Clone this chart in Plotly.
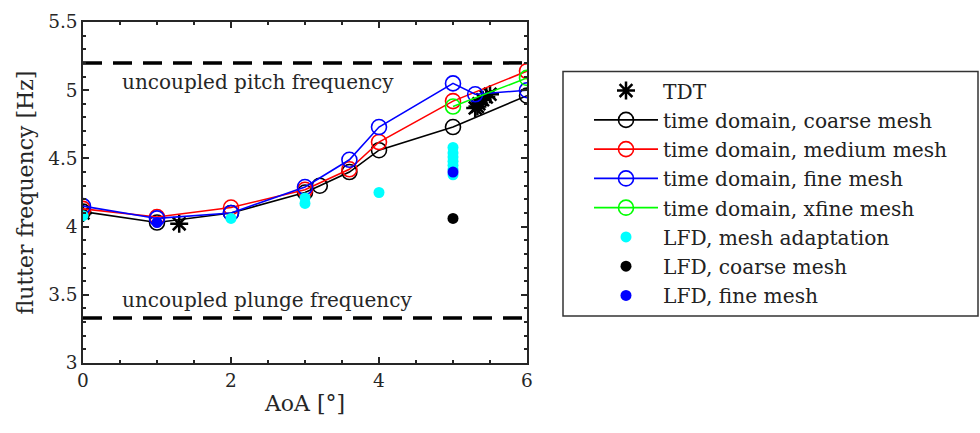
import plotly.graph_objects as go

# ---------------- data ----------------
tdt_x = [0.0, 1.3, 5.3, 5.35, 5.4, 5.45, 5.5, 5.33]
tdt_y = [4.10, 4.02, 4.87, 4.90, 4.93, 4.95, 4.97, 4.88]

coarse_x = [0, 1, 2, 3, 3.2, 3.6, 4, 5, 6]
coarse_y = [4.11, 4.03, 4.10, 4.25, 4.30, 4.40, 4.56, 4.73, 4.96]

medium_x = [0, 1, 2, 3, 3.6, 4, 5, 6]
medium_y = [4.13, 4.07, 4.14, 4.27, 4.42, 4.62, 4.92, 5.14]

fine_x = [0, 1, 2, 3, 3.6, 4, 5, 5.3, 6]
fine_y = [4.15, 4.06, 4.10, 4.29, 4.49, 4.73, 5.05, 4.97, 5.00]

xfine_x = [5, 6]
xfine_y = [4.88, 5.09]

lfd_adapt_x = [0, 2, 3, 3, 4, 5, 5, 5, 5, 5, 5, 5]
lfd_adapt_y = [4.08, 4.06, 4.21, 4.17, 4.25, 4.58, 4.54, 4.51, 4.48, 4.45, 4.42, 4.38]

lfd_coarse_x = [5]
lfd_coarse_y = [4.06]

lfd_fine_x = [1, 5]
lfd_fine_y = [4.03, 4.40]

ref_x = [0, 6]
pitch_freq = 5.2
plunge_freq = 3.33

x_ticks = [0, 2, 4, 6]
y_ticks = [3, 3.5, 4, 4.5, 5, 5.5]

FONT = "DejaVu Serif"
TXT = "#262626"

fig = go.Figure()

# reference lines
for yv in (pitch_freq, plunge_freq):
    fig.add_trace(go.Scatter(x=ref_x, y=[yv] * 2, mode="lines",
                             line=dict(color="black", width=3.5, dash="19px,11px"),
                             showlegend=False, hoverinfo="skip"))

fig.add_trace(go.Scatter(x=tdt_x, y=tdt_y, mode="markers", name="TDT",
                         marker=dict(symbol="asterisk-open", size=15, color="black",
                                     line=dict(color="black", width=2.5))))

for name, xs, ys, col in [
    ("time domain, coarse mesh", coarse_x, coarse_y, "#000000"),
    ("time domain, medium mesh", medium_x, medium_y, "#ff0000"),
    ("time domain, fine mesh", fine_x, fine_y, "#0000ff"),
    ("time domain, xfine mesh", xfine_x, xfine_y, "#00ff00"),
]:
    fig.add_trace(go.Scatter(x=xs, y=ys, mode="lines+markers", name=name,
                             line=dict(color=col, width=1.6),
                             marker=dict(symbol="circle-open", size=15, color=col,
                                         line=dict(color=col, width=1.6))))

for name, xs, ys, col in [
    ("LFD, mesh adaptation", lfd_adapt_x, lfd_adapt_y, "#00ffff"),
    ("LFD, coarse mesh", lfd_coarse_x, lfd_coarse_y, "#000000"),
    ("LFD, fine mesh", lfd_fine_x, lfd_fine_y, "#0000ff"),
]:
    fig.add_trace(go.Scatter(x=xs, y=ys, mode="markers", name=name,
                             marker=dict(symbol="circle", size=11, color=col,
                                         line=dict(width=0))))

fig.add_annotation(x=0.5, y=5.062, xref="x", yref="y", text="uncoupled pitch frequency",
                   showarrow=False, xanchor="left", yanchor="middle",
                   font=dict(family=FONT, size=20, color=TXT))
fig.add_annotation(x=0.5, y=3.461, xref="x", yref="y", text="uncoupled plunge frequency",
                   showarrow=False, xanchor="left", yanchor="middle",
                   font=dict(family=FONT, size=20, color=TXT))

axis_common = dict(showline=True, linecolor=TXT, linewidth=1.5, mirror="ticks",
                   ticks="inside", ticklen=6, tickwidth=1.5, tickcolor=TXT,
                   showgrid=False, zeroline=False,
                   tickfont=dict(family=FONT, size=18.5, color=TXT))

fig.update_xaxes(range=[0, 6], tickvals=x_ticks,
                 minor=dict(dtick=0.5, ticks="inside", ticklen=3, tickwidth=1.5, tickcolor=TXT),
                 title=dict(text="AoA [°]", font=dict(family=FONT, size=22, color=TXT), standoff=6),
                 **axis_common)
fig.update_yaxes(range=[3, 5.5], tickvals=y_ticks,
                 minor=dict(dtick=0.1, ticks="inside", ticklen=3, tickwidth=1.5, tickcolor=TXT),
                 title=dict(text="flutter frequency [Hz]", font=dict(family=FONT, size=22, color=TXT), standoff=8),
                 **axis_common)

# legend frame (paper coordinates)
fig.add_shape(type="rect", xref="paper", yref="paper",
              x0=(563 - 83) / 444, x1=(978 - 83) / 444,
              y0=(363 - 316) / 340.4, y1=(363 - 72) / 340.4,
              line=dict(color="#333", width=1.5), fillcolor="rgba(0,0,0,0)")

fig.update_layout(
    width=980, height=433,
    margin=dict(l=83, r=453, t=22, b=70),
    paper_bgcolor="white", plot_bgcolor="white",
    font=dict(family=FONT, color=TXT),
    legend=dict(x=(589 - 83) / 444, y=(363 - 71.5) / 340.4, xanchor="left", yanchor="top",
                borderwidth=0, bgcolor="rgba(0,0,0,0)",
                font=dict(family=FONT, size=20.2, color="#222"),
                tracegroupgap=0, itemwidth=64),
)

fig.write_html("out.html")
